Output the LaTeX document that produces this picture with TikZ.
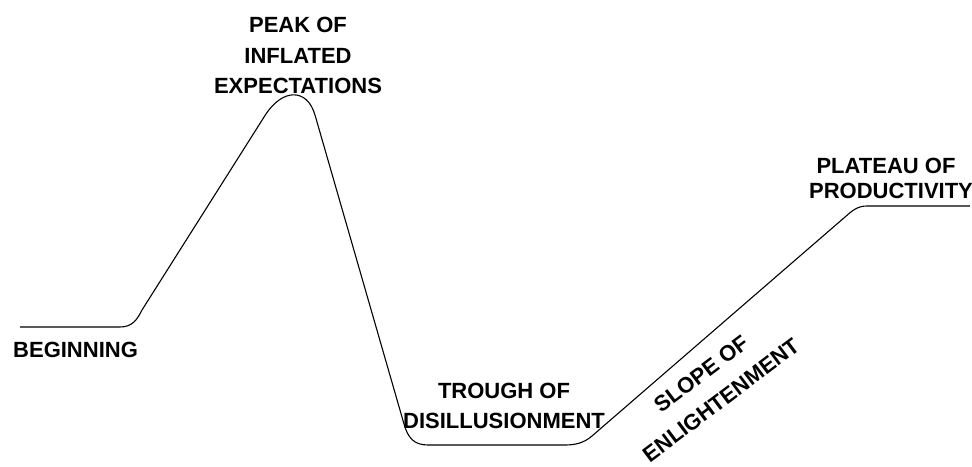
\documentclass[tikz,border=0pt]{standalone}
\usepackage{fontspec}
\setmainfont{Liberation Sans}
\begin{document}
\begin{tikzpicture}[x=1pt,y=-1pt,
  lbl/.style={font=\fontsize{22}{30}\selectfont\bfseries, inner sep=0pt, anchor=base},
  curve/.style={line width=1.1pt, line join=round}]
\useasboundingbox (0,0) rectangle (972,466);
\coordinate (s) at (20,327);
\coordinate (e) at (970,206);
\draw[curve] (s) -- (120,327) .. controls (132,327) and (137,320) .. (142,310)
  -- (265,115.5) .. controls (282.4,88) and (307.2,88) .. (315,115)
  -- (404,424) .. controls (408,438) and (414,445) .. (428,445)
  -- (565,445) .. controls (575,445) and (584,443) .. (592,436)
  -- (845,217) .. controls (852,211) and (857,206) .. (867,206) -- (e);
\node[lbl, anchor=base west] (b) at (13,357) {BEGINNING};
\node[lbl] (p1) at (298,32) {PEAK OF};
\node[lbl] (p2) at (298,63) {INFLATED};
\node[lbl] (p3) at (298,93) {EXPECTATIONS};
\node[lbl] (t1) at (504,398) {TROUGH OF};
\node[lbl] (t2) at (504,428) {DISILLUSIONMENT};
\node[lbl] (l1) at (886,173) {PLATEAU OF};
\node[lbl] (l2) at (891,198) {PRODUCTIVITY};
\node[lbl, font=\fontsize{22}{33}\selectfont\bfseries, anchor=center, align=center, rotate=37] (sl) at (711,387) {SLOPE OF\\ENLIGHTENMENT};
\end{tikzpicture}
\end{document}
